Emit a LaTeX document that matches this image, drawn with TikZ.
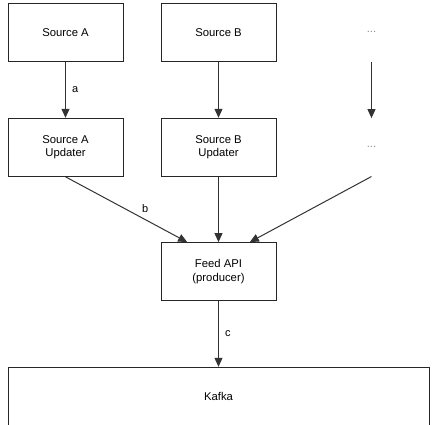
\documentclass[tikz,border=0pt]{standalone}
\usepackage{fontspec}
\setmainfont{Liberation Sans}
\usetikzlibrary{arrows.meta,positioning,calc}

\tikzset{
  box/.style={draw=black!85,line width=1pt,minimum width=115pt,minimum height=58pt,align=center},
  ghost/.style={minimum width=115pt,minimum height=58pt,text=black!45},
  lbl/.style={inner sep=6pt,font=\fontsize{11}{13}\selectfont},
  link/.style={->,draw=black!80,line width=1pt}
}

\begin{document}
\begin{tikzpicture}[node distance=115pt and 153pt,on grid,auto,
    >={Triangle[length=9pt,width=8pt]},
    font=\fontsize{11.3}{13.6}\selectfont]
  \clip (0pt,0pt) rectangle (437pt,-424pt);
  \node[box] (srcA) at (65.5pt,-32.3pt) {Source A};
  \node[box] (srcB) [right=of srcA] {Source B};
  \node[ghost] (dotsS) [right=of srcB] {...};
  \node[box] (updA) [below=of srcA] {Source A\\Updater};
  \node[box] (updB) [below=of srcB] {Source B\\Updater};
  \node[ghost] (dotsU) [below=of dotsS] {...};
  \node[box] (feed) [below=124.3pt of updB] {Feed API\\(producer)};
  \node[box,minimum width=421pt] (kafka) [below=124.7pt of feed] {Kafka};
  \coordinate (feedL) at ($(feed.north west)!0.23!(feed.north east)$);
  \coordinate (feedR) at ($(feed.north west)!0.77!(feed.north east)$);
  \draw[link] (srcA) -- node[lbl] {a} (updA);
  \draw[link] (srcB) -- (updB);
  \draw[link] (dotsS) -- (dotsU);
  \draw[link] (updA.south) -- node[lbl,pos=0.6,inner sep=3pt] {b} (feedL);
  \draw[link] (updB) -- (feed);
  \draw[link] (dotsU.south) -- (feedR);
  \draw[link] (feed) -- node[lbl] {c} (kafka);
\end{tikzpicture}
\end{document}
